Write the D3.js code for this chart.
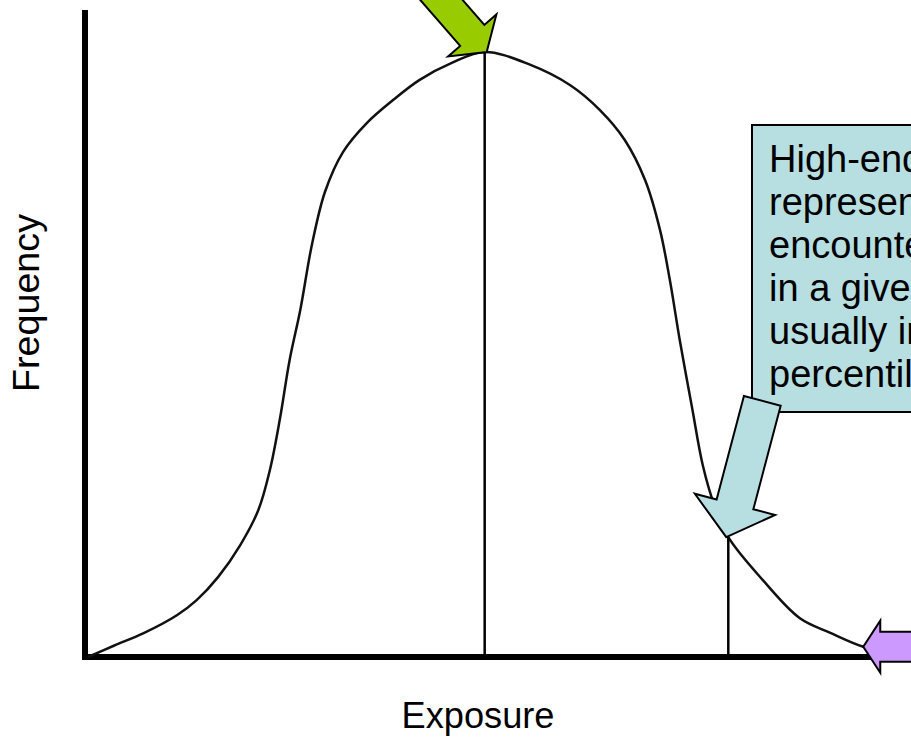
<!DOCTYPE html>
<html>
<head>
<meta charset="utf-8">
<script src="https://cdn.jsdelivr.net/npm/d3@7"></script>
<style>
  html, body { margin: 0; padding: 0; background: #fff; }
  svg { display: block; }
  text { font-family: "Liberation Sans", Arial, sans-serif; fill: #000; }
</style>
</head>
<body>
<svg id="chart" width="911" height="738"></svg>
<script>
// ---- data (exposure in % of axis, frequency in % of peak) ----
const curveX = [0, 3.2, 6.7, 10.8, 13.2, 15.8, 18.5, 20.7, 22.1, 23.3, 24.5, 25.8, 27.2, 28.8, 31.0, 33.9,
                37.1, 40.3, 44.2, 48.2, 53.7, 58.6, 62.2, 65.2, 67.7, 69.5, 70.7, 71.9, 73.4, 74.7, 76.1,
                77.8, 82.0, 86.5, 90.2, 94.2, 98.7];
const curveY = [0, 1.9, 3.9, 6.9, 9.4, 13.2, 18.5, 24.3, 30.9, 39.2, 49.1, 57.4, 68.1, 76.9, 83.5, 88.3,
                92.1, 95.4, 98.2, 100, 97.9, 94.5, 90.4, 85.5, 78.8, 70.6, 62.3, 52.4, 41.2, 31.7, 25.1,
                19.8, 12.7, 6.4, 4.0, 1.7, 0.3];
const peakIndex = 19;      // central tendency
const highEndIndex = 31;   // high-end (percentile) point
const tailIndex = 35;      // extreme tail
const xLabel = "Exposure";
const yLabel = "Frequency";
const calloutLines = ["High-end exposure", "represents levels", "encountered by people",
                      "in a given population,", "usually in the 90th", "percentile or above"];

const svg = d3.select("#chart");
const W = 911, H = 738;

const x = d3.scaleLinear().domain([0, 100]).range([88, 911]);
const y = d3.scaleLinear().domain([0, 100]).range([657, 52]);

const pts = curveX.map((d, i) => [d, curveY[i]]);

// axes
svg.append("line").attr("x1", 85).attr("x2", 85).attr("y1", 10).attr("y2", 660)
  .attr("stroke", "#000").attr("stroke-width", 6);
svg.append("line").attr("x1", 82).attr("x2", W).attr("y1", y(0)).attr("y2", y(0))
  .attr("stroke", "#000").attr("stroke-width", 6);

// curve
const line = d3.line().x(d => x(d[0])).y(d => y(d[1])).curve(d3.curveCatmullRom.alpha(0.5));
svg.append("path").datum(pts).attr("d", line)
  .attr("fill", "none").attr("stroke", "#111").attr("stroke-width", 2.5);

// vertical reference lines
[peakIndex, highEndIndex].forEach(i => {
  svg.append("line").attr("x1", x(curveX[i])).attr("x2", x(curveX[i]))
    .attr("y1", y(curveY[i])).attr("y2", y(0))
    .attr("stroke", "#000").attr("stroke-width", 2.5);
});

// axis labels
svg.append("text").attr("x", 478).attr("y", 728).attr("text-anchor", "middle")
  .attr("font-size", 36).attr("textLength", 153).attr("lengthAdjust", "spacingAndGlyphs").text(xLabel);
svg.append("text").attr("transform", "translate(39,303) rotate(-90)").attr("text-anchor", "middle")
  .attr("font-size", 36).attr("textLength", 178).attr("lengthAdjust", "spacingAndGlyphs").text(yLabel);

// callout box
const boxFill = "#b7dfe2";
svg.append("rect").attr("x", 752).attr("y", 125).attr("width", 200).attr("height", 287)
  .attr("fill", boxFill).attr("stroke", "#000").attr("stroke-width", 2);
calloutLines.forEach((t, i) => {
  svg.append("text").attr("x", 769).attr("y", 172 + i * 43).attr("font-size", 38).text(t);
});

// block arrow helper
function blockArrow(tx, ty, angleDeg, L, sw, hl, hw, fill) {
  const a = angleDeg * Math.PI / 180, c = Math.cos(a), s = Math.sin(a);
  const local = [[0, 0], [-hl, -hw / 2], [-hl, -sw / 2], [-L, -sw / 2], [-L, sw / 2], [-hl, sw / 2], [-hl, hw / 2]];
  const p = local.map(([u, v]) => [tx + u * c - v * s, ty + u * s + v * c]);
  svg.append("path").attr("d", "M" + p.map(q => q.join(",")).join("L") + "Z")
    .attr("fill", fill).attr("stroke", "#000").attr("stroke-width", 2).attr("stroke-linejoin", "miter");
}

blockArrow(x(curveX[peakIndex]) + 2, y(curveY[peakIndex]), 49, 110, 32, 22, 64, "#99cc00");
blockArrow(x(curveX[highEndIndex]) - 2, y(curveY[highEndIndex]), 104.8, 141, 38, 34, 83, boxFill);
blockArrow(x(curveX[tailIndex]), y(curveY[tailIndex]), 180, 90, 30, 17, 52, "#cc99ff");
</script>
</body>
</html>
